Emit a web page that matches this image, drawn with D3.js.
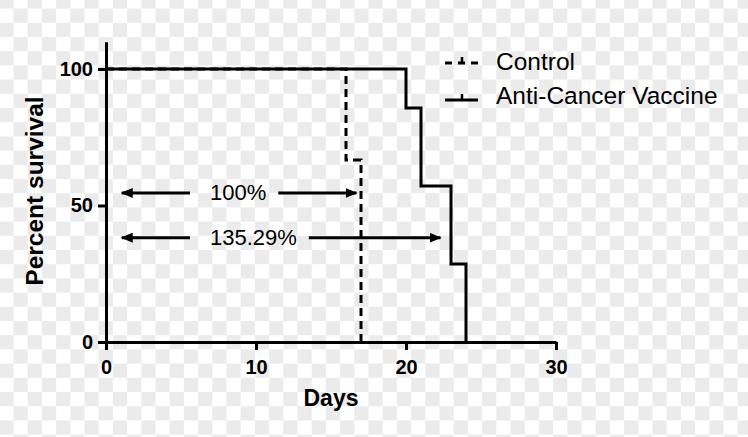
<!DOCTYPE html>
<html><head><meta charset="utf-8">
<script src="https://cdn.jsdelivr.net/npm/d3@7"></script>
<style>html,body{margin:0;padding:0;background:#fff;}svg{display:block;}</style>
</head><body>
<svg id="chart" width="748" height="437"></svg>
<script>
// ---- data ----
const controlDays = [0, 16, 17];
const controlSurvival = [100, 66.67, 0];
const vaccineDays = [0, 20, 21, 23, 24];
const vaccineSurvival = [100, 85.71, 57.14, 28.57, 0];
const xTicks = [0, 10, 20, 30];
const yTicks = [0, 50, 100];
const seriesNames = ["Control", "Anti-Cancer Vaccine"];
const annotationLabels = ["100%", "135.29%"];
const annotationY = [54.6, 38.2];
const annotationStart = [1.05, 1.05];
const annotationEnd = [16.7, 22.3];

const svg = d3.select("#chart");
const W = 748, H = 437;

// checkerboard background (drawn as plain rects)
const P = 14.2, ox = -0.7, oy = 8.6 - 2 * 14.2;
const cells = [];
for (let r = 0; r * P + oy < H; r++) {
  for (let c = 0; c * P + ox < W; c++) {
    if ((r + c) % 2 === 1) cells.push([ox + c * P, oy + r * P]);
  }
}
svg.append("rect").attr("width", W).attr("height", H).attr("fill", "#ffffff");
svg.append("g").selectAll("rect").data(cells).join("rect")
  .attr("x", d => d[0]).attr("y", d => d[1]).attr("width", P).attr("height", P)
  .attr("fill", "#ebebeb");

const defs = svg.append("defs");
const mk = defs.append("marker").attr("id", "arr").attr("viewBox", "0 0 12 10")
  .attr("refX", 11).attr("refY", 5).attr("markerWidth", 12).attr("markerHeight", 10)
  .attr("markerUnits", "userSpaceOnUse").attr("orient", "auto-start-reverse");
mk.append("path").attr("d", "M0,0 L12,5 L0,10 Z").attr("fill", "#000");

const x = d3.scaleLinear().domain([0, 30]).range([106, 556]);
const y = d3.scaleLinear().domain([0, 110]).range([342, 41.7]);

// axes
const xAxis = svg.append("g").attr("transform", `translate(0,${y(0)})`)
  .call(d3.axisBottom(x).tickValues(xTicks).tickSize(8).tickSizeOuter(0).tickPadding(10));
const yAxis = svg.append("g").attr("transform", `translate(${x(0)},0)`)
  .call(d3.axisLeft(y).tickValues(yTicks).tickSize(8).tickSizeOuter(0).tickPadding(5));
[xAxis, yAxis].forEach(g => {
  g.select(".domain").attr("stroke", "#000").attr("stroke-width", 3);
  g.selectAll(".tick line").attr("stroke", "#000").attr("stroke-width", 3);
  g.selectAll(".tick text").attr("fill", "#000")
    .style("font-family", "Liberation Sans, Arial, sans-serif")
    .style("font-weight", "bold").style("font-size", "20px");
});

// axis titles
svg.append("text").attr("x", x(15)).attr("y", 406).attr("text-anchor", "middle")
  .style("font-family", "Liberation Sans, Arial, sans-serif").style("font-weight", "bold")
  .style("font-size", "23px").text("Days");
svg.append("text").attr("transform", `translate(43,${191}) rotate(-90)`).attr("text-anchor", "middle")
  .style("font-family", "Liberation Sans, Arial, sans-serif").style("font-weight", "bold")
  .style("font-size", "24.5px").text("Percent survival");

// survival step lines
const line = d3.line().x(d => x(d[0])).y(d => y(d[1])).curve(d3.curveStepAfter);
const controlData = controlDays.map((d, i) => [d, controlSurvival[i]]);
const vaccineData = vaccineDays.map((d, i) => [d, vaccineSurvival[i]]);

svg.append("path").attr("d", line(controlData)).attr("fill", "none").attr("stroke", "#000")
  .attr("stroke-width", 3).attr("stroke-dasharray", "8,5");
svg.append("path").attr("d", line(vaccineData)).attr("fill", "none").attr("stroke", "#000")
  .attr("stroke-width", 3);

// annotations
const afont = "Liberation Sans, Arial, sans-serif";
annotationLabels.forEach((lab, i) => {
  const yy = y(annotationY[i]);
  const tx = 210;
  const t = svg.append("text").attr("x", tx).attr("y", yy + 7.5)
    .style("font-family", afont).style("font-size", "22px").text(lab);
  const tw = t.node().getComputedTextLength();
  svg.append("line").attr("x1", tx - 20).attr("x2", x(annotationStart[i]))
    .attr("y1", yy).attr("y2", yy).attr("stroke", "#000").attr("stroke-width", 3)
    .attr("marker-end", "url(#arr)");
  svg.append("line").attr("x1", tx + tw + 12).attr("x2", x(annotationEnd[i]))
    .attr("y1", yy).attr("y2", yy).attr("stroke", "#000").attr("stroke-width", 3)
    .attr("marker-end", "url(#arr)");
});

// legend
const legY = [63, 100];
const legTextY = [70, 104];
seriesNames.forEach((name, i) => {
  const g = svg.append("g");
  g.append("line").attr("x1", 445).attr("x2", 478).attr("y1", legY[i]).attr("y2", legY[i])
    .attr("stroke", "#000").attr("stroke-width", 3)
    .attr("stroke-dasharray", i === 0 ? "7,6" : null);
  g.append("line").attr("x1", 462).attr("x2", 462).attr("y1", legY[i] - 6).attr("y2", legY[i])
    .attr("stroke", "#000").attr("stroke-width", 2.5);
  g.append("text").attr("x", 496).attr("y", legTextY[i])
    .style("font-family", "Liberation Sans, Arial, sans-serif").style("font-size", "24.5px")
    .text(name);
});
</script>
</body></html>
